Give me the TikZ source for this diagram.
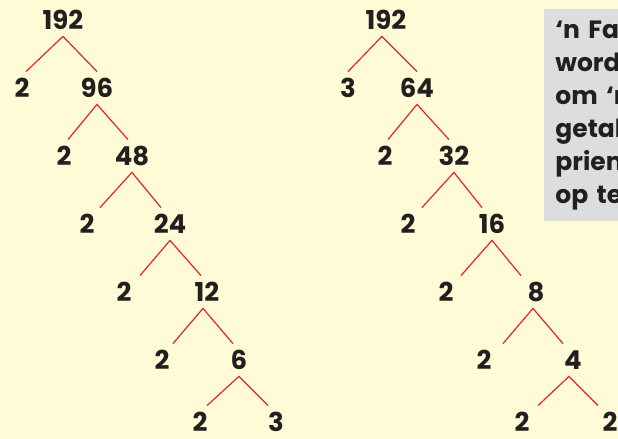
\documentclass[tikz,border=0pt]{standalone}
\usepackage{fontspec}
\setmainfont{Poppins}
\definecolor{paper}{HTML}{FFFBD6}
\definecolor{notegrey}{HTML}{DCDDDF}
\definecolor{branchred}{HTML}{E8232B}
\definecolor{ink}{HTML}{231F20}

\begin{document}
\begin{tikzpicture}[
    x=0.5pt, y=-0.5pt,
    number/.style={
            font=\bfseries\fontsize{13}{15}\selectfont,
            text=ink,
            inner sep=0pt,
            minimum height=16pt
        },
    branch/.style={draw=branchred, line width=0.6pt},
    note_block/.style={
            fill=notegrey,
            text=ink,
            font=\bfseries\fontsize{12.5}{16.5}\selectfont,
            align=left,
            text width=70pt,
            inner xsep=5.5pt,
            inner ysep=0pt,
            minimum height=106pt
        }
    ]

    % --- Background ---
    \fill[paper] (0,0) rectangle (618,439);
    \useasboundingbox (0,0) rectangle (618,439);

    % --- Left tree ---
    \node[number] (l192) at (63,20) {192};
    \node[number] (l2a) at (22,88) {2};
    \node[number] (l96) at (97,88) {96};
    \node[number] (l2b) at (64,156) {2};
    \node[number] (l48) at (132,156) {48};
    \node[number] (l2c) at (87,224) {2};
    \node[number] (l24) at (170,224) {24};
    \node[number] (l2d) at (124,292) {2};
    \node[number] (l12) at (207,292) {12};
    \node[number] (l2e) at (162,360) {2};
    \node[number] (l6) at (239,360) {6};
    \node[number] (l2f) at (200,422) {2};
    \node[number] (l3) at (276,422) {3};

    % --- Right tree ---
    \node[number] (r192) at (386,20) {192};
    \node[number] (r3) at (348,88) {3};
    \node[number] (r64) at (417,88) {64};
    \node[number] (r2a) at (385,156) {2};
    \node[number] (r32) at (454,156) {32};
    \node[number] (r2b) at (408,224) {2};
    \node[number] (r16) at (492,224) {16};
    \node[number] (r2c) at (446,292) {2};
    \node[number] (r8) at (536,292) {8};
    \node[number] (r2d) at (484,360) {2};
    \node[number] (r4) at (573,360) {4};
    \node[number] (r2e) at (522,422) {2};
    \node[number] (r2f) at (610,422) {2};

    % --- Branches, left tree ---
    \draw[branch] ([xshift=2pt]l2a.north) -- (l192.south) -- (l96.north);
    \draw[branch] ([xshift=2pt]l2b.north) -- (l96.south) -- ([xshift=-2pt]l48.north);
    \draw[branch] ([xshift=6.5pt]l2c.north) -- (l48.south) -- ([xshift=-4.5pt]l24.north);
    \draw[branch] ([xshift=8pt]l2d.north) -- (l24.south) -- ([xshift=-3pt]l12.north);
    \draw[branch] ([xshift=5.5pt]l2e.north) -- ([xshift=-2pt]l12.south) -- ([xshift=-3pt]l6.north);
    \draw[branch] ([xshift=3.5pt]l2f.north) -- (l6.south) -- ([xshift=-4pt]l3.north);

    % --- Branches, right tree ---
    \draw[branch] (r3.north) -- ([xshift=-2pt]r192.south) -- (r64.north);
    \draw[branch] ([xshift=1.5pt]r2a.north) -- (r64.south) -- ([xshift=-2.5pt]r32.north);
    \draw[branch] ([xshift=7pt]r2b.north) -- (r32.south) -- ([xshift=-5pt]r16.north);
    \draw[branch] ([xshift=7.5pt]r2c.north) -- (r16.south) -- ([xshift=-7.5pt]r8.north);
    \draw[branch] ([xshift=9.5pt]r2d.north) -- ([xshift=-1.5pt]r8.south) -- ([xshift=-5pt]r4.north);
    \draw[branch] ([xshift=8pt]r2e.north) -- ([xshift=-2pt]r4.south) -- ([xshift=-6pt]r2f.north);

    % --- Note box (cut off at the edge) ---
    \node[note_block, anchor=north west] (note) at (544,9)
        {‘n Fak\\word\\om ‘n\\getal\\priem\\op te};

\end{tikzpicture}
\end{document}
